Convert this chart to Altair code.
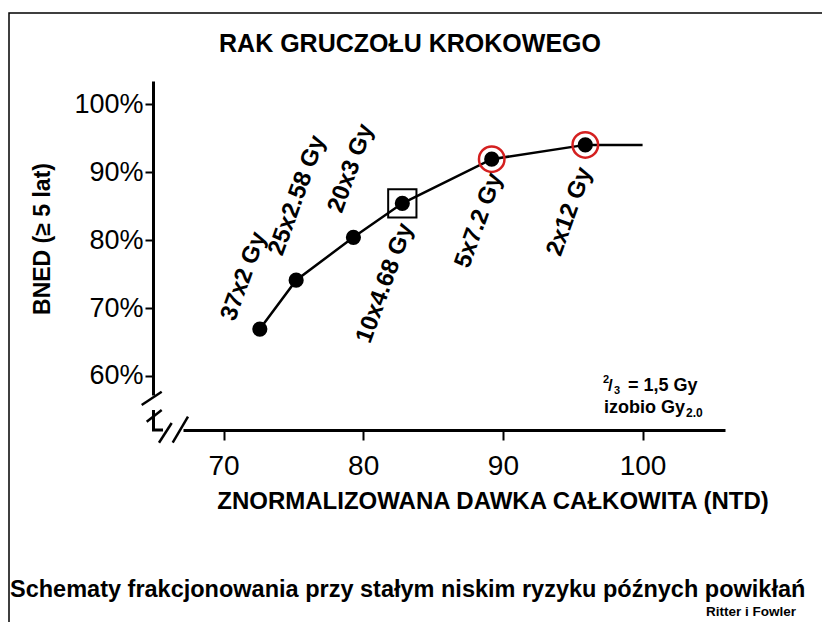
import altair as alt
import pandas as pd

# ---- data ----
labels = ["37x2 Gy", "25x2.58 Gy", "20x3 Gy", "10x4.68 Gy", "5x7.2 Gy", "2x12 Gy"]
ntd = [72.6, 75.2, 79.3, 82.8, 89.2, 95.9]
bned = [66.9, 74.1, 80.4, 85.4, 91.9, 94.0]
curve_end_ntd = [100.0]
curve_end_bned = [94.0]
boxed = ["10x4.68 Gy"]
circled = ["5x7.2 Gy", "2x12 Gy"]
x_ticks = [70, 80, 90, 100]
y_ticks = [60, 70, 80, 90, 100]

title_text = "RAK GRUCZOŁU KROKOWEGO"
x_title = "ZNORMALIZOWANA DAWKA CAŁKOWITA (NTD)"
y_title = "BNED (≥ 5 lat)"
footer = "Schematy frakcjonowania przy stałym niskim ryzyku późnych powikłań"
source = "Ritter i Fowler"

FONT = "Liberation Sans"
W, H = 542, 314          # plot area
OX, OY = 183, 81         # plot-area origin on the page
TOTAL_W, TOTAL_H = 814, 614

pts = pd.DataFrame({"label": labels, "ntd": ntd, "bned": bned})
curve = pd.DataFrame({
    "ntd": ntd + curve_end_ntd,
    "bned": bned + curve_end_bned,
    "order": list(range(len(ntd) + len(curve_end_ntd))),
})

xscale = alt.Scale(domain=[67.1, 105.9], nice=False, zero=False)
yscale = alt.Scale(domain=[57.2, 103.4], nice=False, zero=False)

x_enc = alt.X("ntd:Q", scale=xscale, axis=alt.Axis(
    values=x_ticks, title=None, offset=35, grid=False,
    domainColor="black", domainWidth=3, tickColor="black", tickWidth=2,
    tickSize=10, labelPadding=12, labelFont=FONT, labelFontSize=28,
    labelColor="black", labelFlush=False))
y_enc = alt.Y("bned:Q", scale=yscale, axis=alt.Axis(
    values=y_ticks, title=None, offset=30, grid=False,
    labelExpr="datum.value + '%'",
    domainColor="black", domainWidth=3, tickColor="black", tickWidth=2,
    tickSize=8, labelPadding=2, labelFont=FONT, labelFontSize=27,
    labelColor="black", labelFlush=False))

line = alt.Chart(curve).mark_line(color="black", strokeWidth=2.5).encode(
    x=x_enc, y=y_enc, order="order:Q")

square = alt.Chart(pts).transform_filter(
    alt.FieldOneOfPredicate(field="label", oneOf=boxed)
).mark_point(shape="square", size=800, stroke="black", strokeWidth=2,
             filled=False, opacity=1).encode(x="ntd:Q", y="bned:Q")

rings = alt.Chart(pts).transform_filter(
    alt.FieldOneOfPredicate(field="label", oneOf=circled)
).mark_point(shape="circle", size=650, stroke="#d42020", strokeWidth=2.5,
             filled=False, opacity=1).encode(x="ntd:Q", y="bned:Q")

dots = alt.Chart(pts).mark_point(shape="circle", size=230, filled=True,
                                 color="black", opacity=1).encode(
    x="ntd:Q", y="bned:Q")

# label offsets (in the rotated text frame)
label_off = {
    "37x2 Gy": (44, -33),
    "25x2.58 Gy": (80, -28),
    "20x3 Gy": (64, -26),
    "10x4.68 Gy": (-81, 11),
    "5x7.2 Gy": (-62, 9),
    "2x12 Gy": (-68, 8),
}
label_layers = []
for lab in labels:
    dx, dy = label_off[lab]
    label_layers.append(
        alt.Chart(pts).transform_filter(alt.datum.label == lab).mark_text(
            angle=290, align="center", baseline="middle", dx=dx, dy=dy,
            font=FONT, fontSize=24, fontWeight="bold", color="black"
        ).encode(x="ntd:Q", y="bned:Q", text="label:N"))


def txt(s, px, py, size, weight="bold", align="left", angle=0, baseline="alphabetic"):
    kw = dict(font=FONT, fontSize=size, fontWeight=weight, align=align,
              baseline=baseline, color="black")
    if angle:
        kw["angle"] = angle
    return alt.Chart(pd.DataFrame({"t": [s]})).mark_text(**kw).encode(
        text="t:N", x=alt.value(px - OX), y=alt.value(py - OY))


texts = [
    txt(title_text, 410, 52, 25, align="center"),
    txt(x_title, 493, 509, 24, align="center"),
    txt(y_title, 43, 239, 23, align="center", angle=270, baseline="middle"),
    txt(footer, 10, 597, 23.5),
    txt(source, 751, 616, 13.5, align="center"),
    txt("2", 603, 383, 11),
    txt("/", 608, 391, 17),
    txt("3", 614, 394, 11),
    txt("= 1,5 Gy", 628, 391, 18),
    txt("izobio Gy", 604, 413, 18),
    txt("2.0", 686, 417, 12),
]


def seg(x1, y1, x2, y2, w=2.5):
    return alt.Chart(pd.DataFrame({"a": [0]})).mark_rule(
        color="black", strokeWidth=w).encode(
        x=alt.value(x1 - OX), y=alt.value(y1 - OY),
        x2=alt.value(x2 - OX), y2=alt.value(y2 - OY))


breaks = [
    seg(141.7, 405, 161.7, 391.7),
    seg(146.7, 421.7, 161.7, 410),
    seg(153.5, 410, 153.5, 430, 3),
    seg(152, 430, 163, 430, 3),
    seg(159, 442.7, 171.7, 423),
    seg(172.7, 442.7, 188, 416.7),
]

frame = alt.Chart(pd.DataFrame({"a": [0]})).mark_rect(
    fill="white", fillOpacity=0, stroke="black", strokeWidth=1.5).encode(
    x=alt.value(9 - OX), y=alt.value(13 - OY),
    x2=alt.value(900 - OX), y2=alt.value(700 - OY))

chart = alt.layer(
    frame, line, square, rings, dots, *label_layers, *texts, *breaks
).properties(
    width=W, height=H,
    autosize=alt.AutoSizeParams(type="none"),
    padding={"left": OX - 8, "top": OY - 8, "right": TOTAL_W - (OX - 8) - W,
             "bottom": TOTAL_H - (OY - 8) - H},
    background="white",
).configure_view(stroke=None)

chart.save("out.html", embed_options={"renderer": "svg", "actions": False})
